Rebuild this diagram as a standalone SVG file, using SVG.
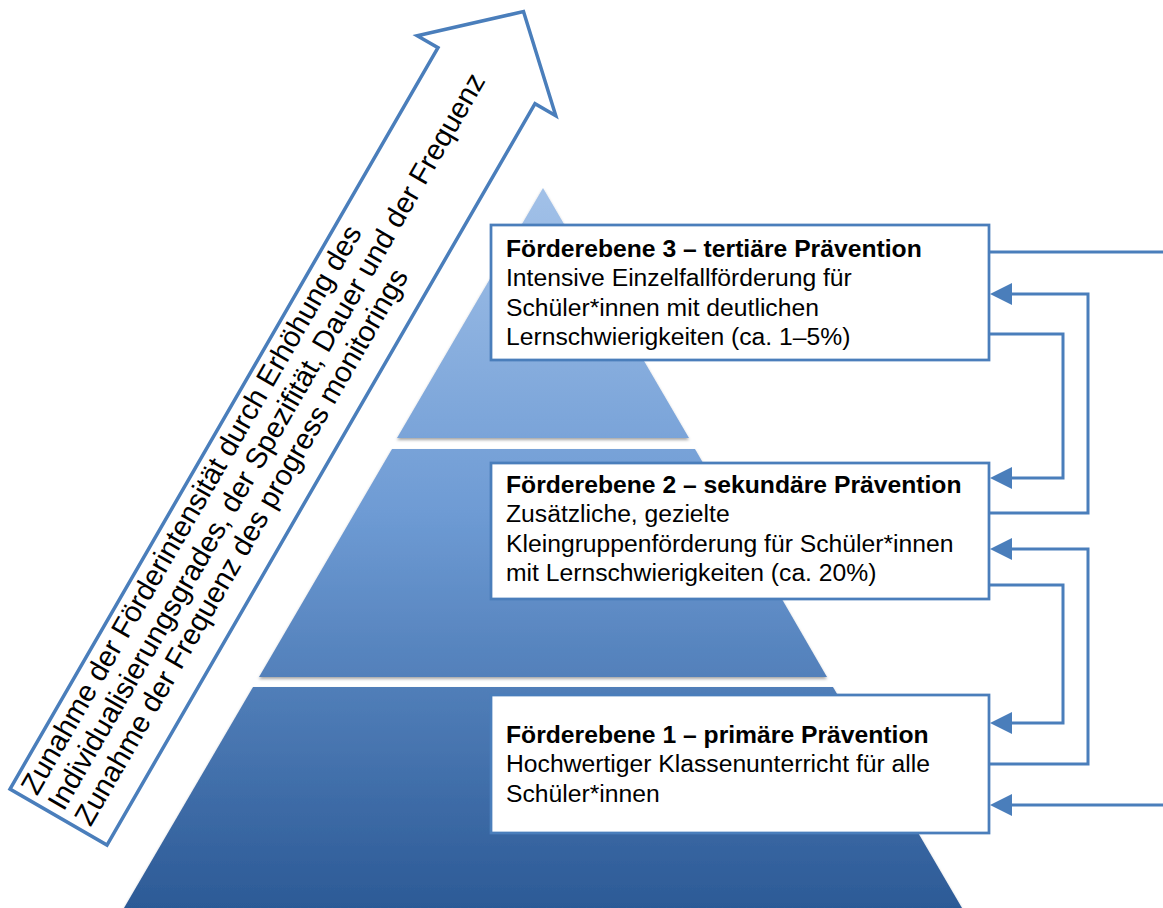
<svg xmlns="http://www.w3.org/2000/svg" width="1163" height="908" viewBox="0 0 1163 908">
<style>
.tier{fill:url(#pyr);filter:url(#sh)}
.box{fill:#ffffff;stroke:#4a7ebb;stroke-width:2.75}
.conn{fill:none;stroke:#4a7ebb;stroke-width:3}
.t{font-family:"Liberation Sans",Arial,sans-serif;font-size:24.7px;fill:#000}
.b{font-weight:bold}
.at{font-family:"Liberation Sans",Arial,sans-serif;font-size:29px;fill:#000}
</style>
<defs>
<linearGradient id="pyr" gradientUnits="userSpaceOnUse" x1="0" y1="188" x2="0" y2="908">
<stop offset="0" stop-color="#a2c1e8"/>
<stop offset="0.45" stop-color="#6e9bd4"/>
<stop offset="1" stop-color="#2c5a96"/>
</linearGradient>
<filter id="sh" x="-10%" y="-10%" width="120%" height="130%">
<feDropShadow dx="0" dy="2" stdDeviation="1.5" flood-color="#000" flood-opacity="0.35"/>
</filter>
<marker id="ah" markerUnits="userSpaceOnUse" markerWidth="22" markerHeight="22" viewBox="0 0 22 22" refX="12" refY="11" orient="auto">
<path d="M0,0 L22,11 L0,22 z" fill="#4a7ebb"/>
</marker>
</defs>
<g id="pyramid">
<polygon id="tier3" class="tier" points="543,188 397,438 689,438"/>
<polygon id="tier2" class="tier" points="392,449 695,449 827,677 259,677"/>
<polygon id="tier1" class="tier" points="253,687 833,687 962,908 124,908"/>
</g>
<g id="intensity-arrow" transform="translate(10,789) rotate(-60)">
<polygon points="0,0 856,0 856,-24 930,56 856,136 856,112 0,112" fill="#ffffff" stroke="#4a7ebb" stroke-width="3.5" stroke-linejoin="miter"/>
<text class="at" x="7" y="27">Zunahme der Förderintensität durch Erhöhung des</text>
<text class="at" x="7" y="58">Individualisierungsgrades, der Spezifität, Dauer und der Frequenz</text>
<text class="at" x="7" y="89">Zunahme der Frequenz des progress monitorings</text>
</g>
<g id="level3">
<rect class="box" x="491" y="225" width="498" height="135"/>
<text class="t b" x="506" y="256.5">Förderebene 3 – tertiäre Prävention</text>
<text class="t" x="506" y="286">Intensive Einzelfallförderung für</text>
<text class="t" x="506" y="315.5">Schüler*innen mit deutlichen</text>
<text class="t" x="506" y="345">Lernschwierigkeiten (ca. 1–5%)</text>
</g>
<g id="level2">
<rect class="box" x="491" y="463" width="498" height="136"/>
<text class="t b" x="506" y="492.5">Förderebene 2 – sekundäre Prävention</text>
<text class="t" x="506" y="522">Zusätzliche, gezielte</text>
<text class="t" x="506" y="551.5">Kleingruppenförderung für Schüler*innen</text>
<text class="t" x="506" y="581">mit Lernschwierigkeiten (ca. 20%)</text>
</g>
<g id="level1">
<rect class="box" x="491" y="695" width="498" height="138"/>
<text class="t b" x="506" y="743">Förderebene 1 – primäre Prävention</text>
<text class="t" x="506" y="772">Hochwertiger Klassenunterricht für alle</text>
<text class="t" x="506" y="801.5">Schüler*innen</text>
</g>
<g id="connectors">
<path class="conn" d="M989,252 H1163"/>
<path class="conn" d="M989,513 H1088 V294 H1000" marker-end="url(#ah)"/>
<path class="conn" d="M989,334 H1063 V478 H1000" marker-end="url(#ah)"/>
<path class="conn" d="M989,585 H1063 V723 H1000" marker-end="url(#ah)"/>
<path class="conn" d="M989,764 H1088 V549 H1000" marker-end="url(#ah)"/>
<path class="conn" d="M1163,805 H1000" marker-end="url(#ah)"/>
</g>
</svg>
